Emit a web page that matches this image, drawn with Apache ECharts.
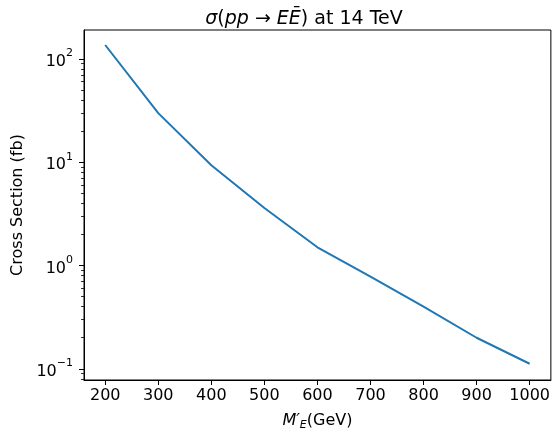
<!DOCTYPE html>
<html>
<head>
<meta charset="utf-8">
<script src="https://cdn.jsdelivr.net/npm/echarts@6/dist/echarts.min.js"></script>
<style>
html,body{margin:0;padding:0;background:#fff;}
#main{width:553px;height:438px;}
</style>
</head>
<body>
<div id="main"></div>
<script>
// masses (GeV) and cross sections (fb)
var masses = [200, 300, 400, 500, 600, 700, 800, 900, 1000];
var xsec = [136, 29.8, 9.35, 3.6, 1.5, 0.78, 0.40, 0.20, 0.112];
var xTicks = [200, 300, 400, 500, 600, 700, 800, 900, 1000];
var yMajor = [0.1, 1, 10, 100];
var yMinor = [0.08, 0.09, 0.2, 0.3, 0.4, 0.5, 0.6, 0.7, 0.8, 0.9,
	2, 3, 4, 5, 6, 7, 8, 9, 20, 30, 40, 50, 60, 70, 80, 90];

var FONT = 'DejaVu Sans';

var points = [];
for (var i = 0; i < masses.length; i++) {
	points.push([masses[i], xsec[i]]);
}

//10^k 标签
function powLabel(v) {
	var k = Math.round(Math.log(v) / Math.LN10);
	var s = k < 0 ? '\u2212' + (-k) : '' + k;
	return '{b|10}{sup|' + s + '}';
}

var myChart = echarts.init(document.getElementById('main'));
var option = {
	animation: false,
	backgroundColor: '#ffffff',
	title: {
		text: '{i|\u03c3}{r|(}{i|pp}{r| \u2192 }{i|EE\u0304}{r|) at 14 TeV}',
		left: 299,
		top: 1,
		textAlign: 'center',
		textStyle: {
			fontWeight: 'normal',
			rich: {
				i: {fontFamily: FONT, fontSize: 19, fontStyle: 'italic', fontWeight: 'normal', color: '#000', lineHeight: 26},
				r: {fontFamily: FONT, fontSize: 19, fontWeight: 'normal', color: '#000', lineHeight: 26}
			}
		}
	},
	grid: {
		left: 84,
		right: 2,
		top: 30,
		bottom: 58,
		show: true,
		borderColor: '#000',
		borderWidth: 1,
		backgroundColor: 'transparent'
	},
	xAxis: {
		type: 'value',
		min: 160,
		max: 1040,
		name: '{i|M\u2032}{sub|E}{r|(GeV)}',
		nameLocation: 'middle',
		nameGap: 31,
		nameTextStyle: {
			rich: {
				i: {fontFamily: FONT, fontSize: 16, fontStyle: 'italic', color: '#000', lineHeight: 20},
				sub: {fontFamily: FONT, fontSize: 11, fontStyle: 'italic', color: '#000', lineHeight: 20, verticalAlign: 'bottom', padding: [7, 0, 0, 0]},
				r: {fontFamily: FONT, fontSize: 16, color: '#000', lineHeight: 20}
			}
		},
		axisLine: {show: true, onZero: false, lineStyle: {color: '#000', width: 1}},
		axisTick: {show: true, inside: false, length: 5, customValues: xTicks, lineStyle: {color: '#000', width: 1}},
		axisLabel: {
			customValues: xTicks,
			fontFamily: FONT,
			fontSize: 16,
			color: '#000',
			margin: 8,
			formatter: function (v) {
				return '' + v;
			}
		},
		splitLine: {show: false}
	},
	yAxis: [{
		type: 'log',
		logBase: 10,
		min: 0.078,
		max: 190,
		name: 'Cross Section (fb)',
		nameLocation: 'middle',
		nameGap: 57,
		nameTextStyle: {fontFamily: FONT, fontSize: 16, color: '#000'},
		axisLine: {show: true, lineStyle: {color: '#000', width: 1}},
		axisTick: {show: true, length: 5, customValues: yMajor, lineStyle: {color: '#000', width: 1}},
		axisLabel: {
			customValues: yMajor,
			margin: 11,
			formatter: powLabel,
			rich: {
				b: {fontFamily: FONT, fontSize: 16, color: '#000', lineHeight: 22, verticalAlign: 'bottom'},
				sup: {fontFamily: FONT, fontSize: 11, color: '#000', lineHeight: 22, verticalAlign: 'top', padding: [0, 0, 7, 0]}
			}
		},
		splitLine: {show: false}
	}, {
		type: 'log',
		logBase: 10,
		min: 0.078,
		max: 190,
		position: 'left',
		axisLine: {show: false},
		axisTick: {show: true, length: 3, customValues: yMinor, lineStyle: {color: '#000', width: 0.8}},
		axisLabel: {show: false},
		splitLine: {show: false}
	}],
	series: [{
		type: 'line',
		data: points,
		showSymbol: false,
		symbol: 'none',
		lineStyle: {color: '#1f77b4', width: 2},
		itemStyle: {color: '#1f77b4'}
	}]
};
myChart.setOption(option);
</script>
</body>
</html>
